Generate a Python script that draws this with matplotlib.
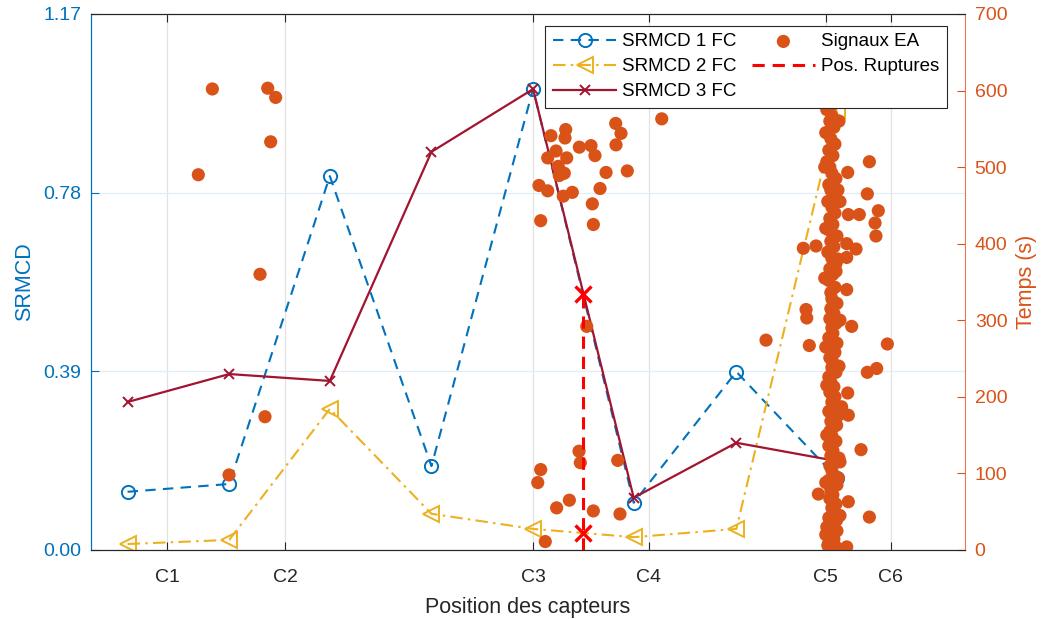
import matplotlib
matplotlib.use("Agg")
import matplotlib.pyplot as plt

plt.rcParams['font.family'] = ['Liberation Sans', 'DejaVu Sans']

# ---------------- data ----------------
x_points = [3.6, 13.6, 23.5, 33.5, 43.5, 53.4, 63.5, 73.4]
srmcd1 = [0.127, 0.144, 0.816, 0.183, 1.006, 0.103, 0.389, 0.157]
srmcd2 = [0.013, 0.022, 0.308, 0.079, 0.046, 0.028, 0.046, 0.960]
srmcd3 = [0.323, 0.384, 0.369, 0.869, 1.006, 0.114, 0.234, 0.194]

sensor_pos = [7.5, 19.1, 43.5, 54.9, 72.3, 78.7]
sensor_labels = ['C1', 'C2', 'C3', 'C4', 'C5', 'C6']

rupture_x = 48.4
rupture_top = 0.559
rupture_marks = [0.559, 0.037]

srmcd_ticks = [0.00, 0.39, 0.78, 1.17]
temps_ticks = [0, 100, 200, 300, 400, 500, 600, 700]

# acoustic emission signals (position, time in s) - scattered events
ea_x = [11.94, 17.39, 18.17, 17.68, 10.56, 16.63, 17.12, 13.58,
        45.26, 46.71, 46.64, 45.76, 44.94, 46.81, 45.98, 46.08, 46.57, 48.05,
        49.20, 49.59, 51.63, 52.15, 51.66, 50.68, 52.77, 44.08, 44.94, 47.36,
        46.47, 50.09, 49.33, 44.25, 49.43, 56.16, 48.78, 44.25, 43.96, 48.02,
        48.15, 51.83, 45.82, 47.07, 49.43, 52.05, 44.70,
        66.42,
        76.59, 76.39, 77.47, 77.15, 77.24, 74.46, 74.52, 75.60, 70.09, 71.34,
        74.36, 75.28, 74.36, 73.31, 74.36, 70.36, 70.43, 74.85, 70.68, 78.36,
        76.39, 77.31, 74.46, 74.52, 75.77, 71.57, 74.52, 76.59,
        73.86, 73.37, 73.70, 73.53, 73.37, 72.40, 74.36, 72.50]
ea_t = [602, 603, 591, 533, 490, 360, 174, 98,
        541, 549, 538, 521, 512, 512, 501, 489, 492, 526,
        528, 515, 557, 544, 529, 493, 495, 476, 469, 467,
        462, 472, 452, 430, 425, 563, 292, 105, 88, 129,
        114, 117, 55, 65, 51, 47, 11,
        274,
        507, 465, 443, 427, 410, 493, 438, 438, 394, 397,
        400, 393, 382, 364, 340, 314, 303, 292, 267, 269,
        232, 237, 205, 176, 131, 73, 63, 43,
        187, 163, 115, 94, 39, 30, 4, 6]

# dense column of events near C5
col_low_t = [0, 4, 9, 14, 19, 25, 30, 36, 42, 48,
             55, 60, 67, 72, 78, 85, 91, 97, 104, 110,
             117, 123, 130, 136, 142, 149, 155, 161, 168, 174,
             181, 187, 193, 200, 206, 213, 219, 226, 232, 238,
             245, 251, 258, 264, 270, 277, 283, 290, 296, 302,
             309, 315, 322, 328]
col_low_x = [72.9, 73.3, 72.6, 73.1, 72.8, 73.4, 72.7, 73.0, 72.6, 73.2,
             72.9, 73.3, 72.7, 73.0, 72.8, 73.4, 72.6, 73.1, 72.9, 72.7,
             73.2, 72.8, 73.0, 72.6, 73.3, 72.9, 72.7, 73.1, 72.8, 73.4,
             72.6, 73.0, 72.9, 73.2, 72.7, 73.1, 72.8, 72.6, 73.3, 72.9,
             73.0, 72.7, 73.2, 72.8, 73.4, 72.6, 73.0, 72.9, 73.3, 72.7,
             73.1, 72.8, 73.4, 72.9]
col_up_t = [336, 343, 352, 360, 367, 374, 381, 389, 396, 403,
            410, 418, 425, 433, 440, 448, 455, 462, 470, 477,
            485, 492, 500, 507, 515, 522, 530, 537, 545, 552,
            560, 567, 575, 582, 590, 598, 605, 612, 620, 630,
            640]
col_up_x = [72.8, 73.2, 72.6, 73.0, 72.7, 73.3, 72.9, 72.5, 73.1, 72.8,
            73.4, 72.6, 73.0, 72.7, 73.2, 72.9, 72.5, 73.1, 72.8, 72.6,
            73.3, 72.9, 72.7, 72.4, 73.0, 72.6, 73.2, 72.8, 72.3, 73.1,
            72.7, 72.9, 72.4, 73.0, 72.6, 72.8, 72.5, 73.1, 72.7, 72.9,
            72.6]
col_side_t = [20, 45, 88, 120, 150, 178, 215, 240, 265, 300,
              355, 380, 420, 455, 500, 560, 600, 470]
col_side_x = [72.3, 73.7, 72.3, 73.6, 72.4, 73.8, 72.4, 73.6, 72.3, 73.7,
              72.2, 73.5, 72.3, 73.7, 72.2, 73.6, 72.1, 73.5]

# ---------------- style ----------------
BLUE = '#0072BD'
ORANGE = '#D95319'
YELLOW = '#EDB120'
DARKRED = '#A2142F'
RED = '#FF0000'
GRAY = '#262626'

fig = plt.figure(figsize=(10.52, 6.19), dpi=100)
ax1 = fig.add_axes([0.0865, 0.1115, 0.8308, 0.866])
ax2 = ax1.twinx()

# left axis: SRMCD lines
l1, = ax1.plot(x_points, srmcd1, color=BLUE, lw=1.5, dashes=(5, 3.5),
               marker='o', ms=9.5, mfc='none', mew=1.4, label='SRMCD 1 FC')
l2, = ax1.plot(x_points, srmcd2, color=YELLOW, lw=1.5, dashes=(6, 2.5, 1.2, 2.5),
               marker='<', ms=11, mfc='none', mew=1.4, label='SRMCD 2 FC')
l3, = ax1.plot(x_points, srmcd3, color=DARKRED, lw=1.6, ls='-',
               marker='x', ms=7, mew=1.4, label='SRMCD 3 FC')

ax1.set_xlim(0, 86)
ax1.set_ylim(0, 1.17)
ax1.set_yticks(srmcd_ticks)
ax1.set_yticklabels([f'{v:.2f}' for v in srmcd_ticks])
ax1.set_xticks(sensor_pos)
ax1.set_xticklabels(sensor_labels)

# grid
ax1.set_axisbelow(True)
ax1.xaxis.grid(True, color='#e2e2e2', lw=0.9)
ax1.yaxis.grid(True, color='#e1edf7', lw=0.9)

# right axis: acoustic emission scatter
all_x = ea_x + col_low_x + col_up_x + col_side_x
all_t = ea_t + col_low_t + col_up_t + col_side_t
sc = ax2.scatter(all_x, all_t, s=90, color=ORANGE, edgecolors='none',
                 zorder=2, label='Signaux EA')
ax2.set_ylim(0, 700)
ax2.set_yticks(temps_ticks)

# rupture position (in SRMCD coordinates, drawn above scatter)
rl, = ax2.plot([rupture_x, rupture_x], [0, rupture_top], transform=ax1.transData,
               color=RED, lw=2.2, dashes=(4, 2.6), zorder=3, label='Pos. Ruptures')
ax2.plot([rupture_x] * len(rupture_marks), rupture_marks, transform=ax1.transData,
         ls='none', marker='x', ms=12, mew=2.4, color=RED, zorder=4)
ax2.set_xlim(0, 86)

# labels
ax1.set_xlabel('Position des capteurs', fontsize=15.5, color=GRAY, labelpad=8)
ax1.set_ylabel('SRMCD', fontsize=15.5, color=BLUE, labelpad=6)
ax2.set_ylabel('Temps (s)', fontsize=15.5, color=ORANGE, labelpad=6)

# ticks
ax1.tick_params(axis='x', which='both', direction='in', top=True, bottom=True,
                length=6, width=0.8, colors=GRAY, labelsize=14, pad=13.5)
ax1.tick_params(axis='y', direction='in', left=True, right=False, length=6,
                width=0.8, colors=BLUE, labelsize=14, pad=7)
ax2.tick_params(axis='y', direction='in', right=True, left=False, length=6,
                width=0.8, colors=ORANGE, labelsize=14, pad=7)

# spines
for ax in (ax1, ax2):
    ax.spines['top'].set_color(GRAY)
    ax.spines['bottom'].set_color(GRAY)
    for s in ax.spines.values():
        s.set_linewidth(0.8)
ax1.spines['left'].set_color(BLUE)
ax1.spines['right'].set_visible(False)
ax2.spines['left'].set_color(BLUE)
ax2.spines['right'].set_color('#E07A4F')

# legend
leg = ax2.legend([l1, l2, l3, sc, rl],
                 ['SRMCD 1 FC', 'SRMCD 2 FC', 'SRMCD 3 FC', 'Signaux EA', 'Pos. Ruptures'],
                 ncol=2, loc='upper right', bbox_to_anchor=(0.979, 0.978),
                 borderaxespad=0, fontsize=13.5, handlelength=3.4, handletextpad=0.3,
                 columnspacing=0.8, labelspacing=0.42, borderpad=0.4,
                 fancybox=False, framealpha=1, edgecolor=GRAY, scatterpoints=1)
leg.get_frame().set_linewidth(0.8)
leg.set_zorder(10)

fig.savefig('out.png', dpi=100)
